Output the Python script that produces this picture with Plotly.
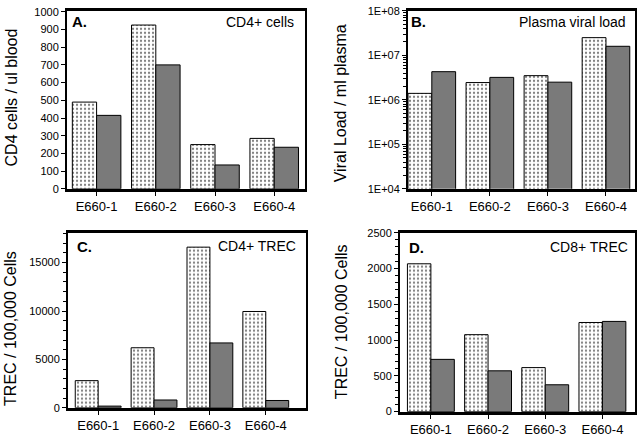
import plotly.graph_objects as go

categories = ["E660-1", "E660-2", "E660-3", "E660-4"]
cd4_cells_dotted = [490, 925, 250, 285]
cd4_cells_gray = [415, 700, 135, 235]
viral_dotted = [1.4e6, 2.45e6, 3.5e6, 2.5e7]
viral_gray = [4.3e6, 3.2e6, 2.5e6, 1.6e7]
cd4_trec_dotted = [2800, 6200, 16600, 9950]
cd4_trec_gray = [170, 800, 6700, 750]
cd8_trec_dotted = [2065, 1075, 615, 1245]
cd8_trec_gray = [730, 570, 375, 1260]

log_tickvals = [1e4, 1e5, 1e6, 1e7, 1e8]
log_ticktext = ["1E+04", "1E+05", "1E+06", "1E+07", "1E+08"]
log_minor_vals = [m * 10 ** e for e in range(4, 8) for m in range(2, 10)]

FONT = "Liberation Sans, Arial, Helvetica, sans-serif"
GRAY = "#7a7a7a"

dotted_marker = dict(color="white", line=dict(color="black", width=1),
                     pattern=dict(shape=".", fgcolor="black", bgcolor="white", size=4, solidity=0.25))
gray_marker = dict(color=GRAY, line=dict(color="black", width=1))

fig = go.Figure()
panels = [
    ("x", "y", cd4_cells_dotted, cd4_cells_gray),
    ("x2", "y2", viral_dotted, viral_gray),
    ("x3", "y3", cd4_trec_dotted, cd4_trec_gray),
    ("x4", "y4", cd8_trec_dotted, cd8_trec_gray),
]
for xa, ya, d, g in panels:
    fig.add_trace(go.Bar(x=categories, y=d, xaxis=xa, yaxis=ya, marker=dotted_marker, showlegend=False))
    fig.add_trace(go.Bar(x=categories, y=g, xaxis=xa, yaxis=ya, marker=gray_marker, showlegend=False))

W, H = 640, 440
def dx(a, b):
    return [a / W, b / W]
def dy(top, bottom):
    return [1 - bottom / H, 1 - top / H]

xcommon = dict(type="category", showline=True, linecolor="black", linewidth=3, mirror=True,
               ticks="outside", ticklen=4, tickwidth=1, tickcolor="black",
               tickfont=dict(size=13, color="black", family=FONT), showgrid=False, fixedrange=True)
ycommon = dict(showline=True, linecolor="black", linewidth=2, mirror=True,
               ticks="outside", ticklen=4, tickwidth=1, tickcolor="black",
               tickfont=dict(size=11, color="black", family=FONT), showgrid=False, zeroline=False,
               fixedrange=True, tickformat="d")

fig.update_layout(
    width=W, height=H, margin=dict(l=0, r=0, t=0, b=0),
    paper_bgcolor="white", plot_bgcolor="white",
    barmode="group", bargap=0.18, bargroupgap=0,
    font=dict(family=FONT, color="black"),
    xaxis=dict(xcommon, domain=dx(67, 305), range=[-0.5, 3.52], anchor="y"),
    yaxis=dict(ycommon, domain=dy(5, 188), range=[0, 1005], tickvals=list(range(0, 1001, 100)), anchor="x"),
    xaxis2=dict(xcommon, domain=dx(408, 635), range=[-0.41, 3.5], anchor="y2"),
    yaxis2=dict(ycommon, domain=dy(5, 188), type="log", range=[4, 8], tickvals=log_tickvals,
                ticktext=log_ticktext, anchor="x2",
                minor=dict(ticks="outside", ticklen=3, tickcolor="black", tickvals=log_minor_vals)),
    xaxis3=dict(xcommon, domain=dx(68, 306), range=[-0.54, 3.72], anchor="y3"),
    yaxis3=dict(ycommon, domain=dy(233, 413), range=[0, 18100], tickvals=[0, 5000, 10000, 15000], anchor="x3",
                minor=dict(ticks="outside", ticklen=3, tickcolor="black", dtick=1000)),
    xaxis4=dict(xcommon, domain=dx(400, 635), range=[-0.54, 3.57], anchor="y4"),
    yaxis4=dict(ycommon, domain=dy(233, 417), range=[0, 2500], tickvals=[0, 500, 1000, 1500, 2000, 2500], anchor="x4",
                minor=dict(ticks="outside", ticklen=3, tickcolor="black", dtick=100)),
)

def ann(text, x, y, xanchor="center", size=14, bold=False, angle=0):
    fig.add_annotation(text=("<b>%s</b>" % text) if bold else text, x=x / W, y=1 - y / H,
                       xref="paper", yref="paper", xanchor=xanchor, yanchor="middle",
                       showarrow=False, textangle=angle, font=dict(size=size, family=FONT, color="black"))

# y-axis titles
ann("CD4 cells / ul blood", 11, 94, size=16, angle=-90)
ann("Viral Load / ml plasma", 340, 100, size=16, angle=-90)
ann("TREC / 100,000 Cells", 11, 332, size=16, angle=-90)
ann("TREC / 100,000 Cells", 341, 325, size=16, angle=-90)

# panel labels
ann("A.", 70, 16, xanchor="left", size=15, bold=True)
ann("CD4+ cells", 296, 16, xanchor="right", size=14)
ann("B.", 409, 16, xanchor="left", size=15, bold=True)
ann("Plasma viral load", 628, 16, xanchor="right", size=14)
ann("C.", 75, 247, xanchor="left", size=15, bold=True)
ann("CD4+ TREC", 298, 247, xanchor="right", size=14)
ann("D.", 407, 248, xanchor="left", size=15, bold=True)
ann("CD8+ TREC", 630, 248, xanchor="right", size=14)

fig.write_html("out.html", config={"displayModeBar": False},
               post_script="document.body.style.margin='0';document.body.style.padding='0';document.body.style.overflow='hidden';")
